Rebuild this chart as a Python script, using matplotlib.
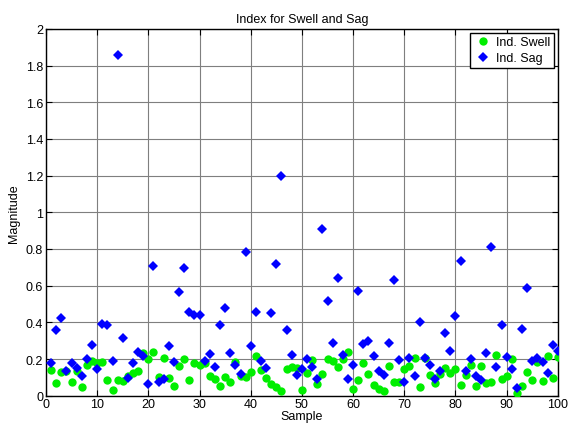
import numpy as np
import matplotlib
matplotlib.use("Agg")
import matplotlib.pyplot as plt

# samples 1..100
sample = np.arange(1, 101)

# Ind. Swell values
swell = [0.14, 0.067, 0.131, 0.136, 0.073, 0.136, 0.045, 0.169, 0.187, 0.18,
         0.184, 0.087, 0.031, 0.085, 0.082, 0.109, 0.124, 0.133, 0.235, 0.2,
         0.238, 0.1, 0.204, 0.096, 0.055, 0.164, 0.2, 0.085, 0.176, 0.169,
         0.18, 0.109, 0.089, 0.055, 0.1, 0.073, 0.185, 0.11, 0.104, 0.127,
         0.218, 0.142, 0.096, 0.064, 0.045, 0.024, 0.144, 0.156, 0.149, 0.031,
         0.122, 0.193, 0.062, 0.12, 0.198, 0.189, 0.158, 0.2, 0.238, 0.036,
         0.087, 0.176, 0.116, 0.056, 0.038, 0.024, 0.164, 0.076, 0.073, 0.145,
         0.164, 0.207, 0.045, 0.207, 0.115, 0.067, 0.118, 0.149, 0.122, 0.145,
         0.06, 0.115, 0.169, 0.051, 0.16, 0.071, 0.075, 0.22, 0.091, 0.107,
         0.2, 0.013, 0.053, 0.131, 0.084, 0.185, 0.08, 0.215, 0.098, 0.211]

# Ind. Sag values
sag = [0.176, 0.358, 0.424, 0.133, 0.18, 0.15, 0.11, 0.2, 0.276, 0.144,
       0.39, 0.385, 0.187, 1.855, 0.315, 0.096, 0.18, 0.24, 0.215, 0.064,
       0.705, 0.076, 0.089, 0.273, 0.185, 0.564, 0.695, 0.455, 0.44, 0.442,
       0.187, 0.225, 0.155, 0.384, 0.478, 0.235, 0.165, 0.118, 0.785, 0.27,
       0.456, 0.187, 0.151, 0.45, 0.718, 1.199, 0.356, 0.222, 0.111, 0.144,
       0.2, 0.155, 0.091, 0.911, 0.516, 0.287, 0.642, 0.22, 0.091, 0.169,
       0.571, 0.284, 0.296, 0.216, 0.135, 0.113, 0.285, 0.633, 0.193, 0.075,
       0.204, 0.109, 0.402, 0.205, 0.165, 0.089, 0.133, 0.344, 0.242, 0.436,
       0.736, 0.135, 0.2, 0.107, 0.085, 0.233, 0.809, 0.155, 0.384, 0.209,
       0.145, 0.044, 0.362, 0.585, 0.187, 0.205, 0.185, 0.122, 0.278, 0.245]

plt.rcParams['font.family'] = ['Liberation Sans', 'DejaVu Sans']

fig = plt.figure(figsize=(5.7, 4.27), dpi=100)
ax = fig.add_axes([0.0807, 0.071, 0.898, 0.859])

ax.plot(sample, swell, 'o', color='#00ee00', markersize=6, markeredgewidth=0,
        label='Ind. Swell', zorder=3)
ax.plot(sample, sag, 'D', color='#0000ff', markersize=5.5, markeredgewidth=0,
        label='Ind. Sag', zorder=4)

ax.set_xlim(0, 100)
ax.set_ylim(0, 2)
ax.set_xticks(np.arange(0, 101, 10))
yt = np.arange(0, 2.01, 0.2)
ax.set_yticks(yt)
ax.set_yticklabels(['%g' % round(v, 1) for v in yt])
ax.grid(True, color='#7f7f7f', linestyle='-', linewidth=0.8)
ax.set_axisbelow(True)
ax.tick_params(direction='in', top=True, right=True, labelsize=9, length=4,
               pad=2)
for s in ax.spines.values():
    s.set_linewidth(1.0)

ax.set_title('Index for Swell and Sag', fontsize=9, pad=5)
ax.set_xlabel('Sample', fontsize=9, labelpad=0)
ax.set_ylabel('Magnitude', fontsize=9, labelpad=4)

leg = ax.legend(loc='upper right', fontsize=9, fancybox=False, framealpha=1,
                edgecolor='black', borderaxespad=0.3, handletextpad=0.3,
                handlelength=1.5, borderpad=0.3, labelspacing=0.3)
leg.get_frame().set_linewidth(1.0)

fig.savefig('out.png', dpi=100)
